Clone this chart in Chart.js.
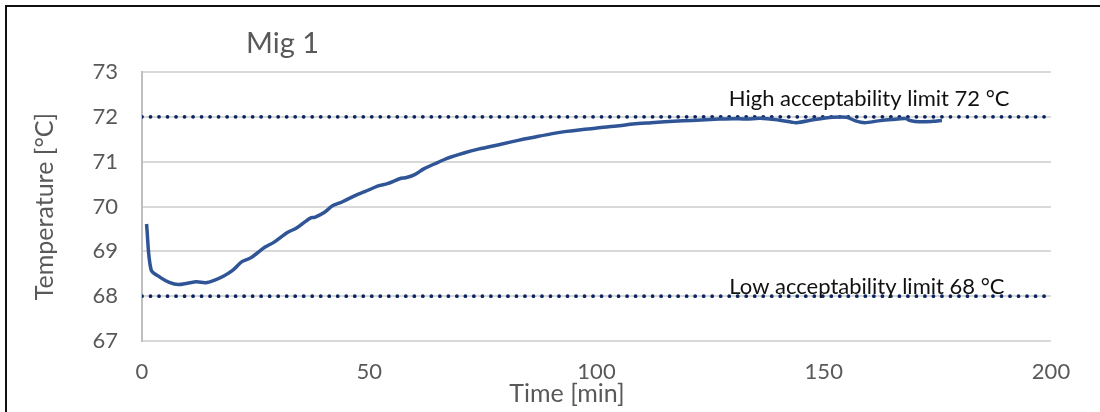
<!DOCTYPE html>
<html>
<head>
<meta charset="utf-8">
<script src="https://cdn.jsdelivr.net/npm/chart.js@4.4.1/dist/chart.umd.min.js"></script>
<style>
    body { margin: 0; background: #fff; }
    #wrap { position: relative; width: 1100px; height: 412px; }
    #frame { position: absolute; left: 5px; top: 5px; right: -10px; bottom: -10px; border-left: 2px solid #111; border-top: 2px solid #111; pointer-events: none; }
</style>
</head>
<body>
<div id="wrap">
    <canvas id="lineChart" width="1100" height="412"></canvas>
    <div id="frame"></div>
</div>
<script>
// du lieu doc tu hinh
var thoiGian = [1, 2, 4, 6, 8, 10, 12, 14, 16, 18, 20, 22, 24, 27, 29, 32, 34, 37, 38, 40, 42, 44, 47, 49, 52, 54, 57, 58, 60, 62, 65, 67, 71, 74, 79, 83, 86, 90, 93, 97, 101, 105, 108, 112, 115, 119, 123, 127, 130, 133, 136, 140, 143, 144, 148, 152, 155, 157, 159, 162, 165, 168, 169, 171, 174, 176];
var nhietDo = [69.61, 68.59, 68.42, 68.31, 68.26, 68.29, 68.32, 68.30, 68.36, 68.45, 68.58, 68.77, 68.86, 69.09, 69.20, 69.42, 69.52, 69.74, 69.76, 69.86, 70.02, 70.10, 70.25, 70.33, 70.46, 70.51, 70.63, 70.64, 70.71, 70.84, 70.98, 71.07, 71.20, 71.28, 71.39, 71.48, 71.54, 71.62, 71.67, 71.72, 71.76, 71.80, 71.84, 71.87, 71.89, 71.91, 71.93, 71.95, 71.96, 71.95, 71.97, 71.93, 71.88, 71.87, 71.94, 71.99, 71.99, 71.91, 71.87, 71.91, 71.94, 71.96, 71.92, 71.89, 71.90, 71.92];
var gioiHanX = [0, 200];
var gioiHanCao = [72, 72];
var gioiHanThap = [68, 68];
var nhanGioiHan = ['High acceptability limit 72 °C', 'Low acceptability limit 68 °C'];
var tieuDe = 'Mig 1';
var tenTrucX = 'Time [min]';
var tenTrucY = 'Temperature [°C]';
var xTicks = [0, 50, 100, 150, 200];
var yTicks = [67, 68, 69, 70, 71, 72, 73];

function toPoints(xs, ys) {
    var pts = [];
    for (var i = 0; i < xs.length; i++) pts.push({ x: xs[i], y: ys[i] });
    return pts;
}

var textPlugin = {
    id: 'textPlugin',
    afterDatasetsDraw: function (chart) {
        var ctx = chart.ctx;
        var xs = chart.scales.x, ys = chart.scales.y;
        ctx.save();
        ctx.font = '29px Lato';
        ctx.fillStyle = '#595959';
        ctx.textAlign = 'left';
        ctx.textBaseline = 'alphabetic';
        ctx.fillText(tieuDe, 246, 53);
        // ten truc x hoi lech trai nhu ban goc
        ctx.font = '25px Lato';
        ctx.textAlign = 'center';
        ctx.textBaseline = 'middle';
        ctx.fillText(tenTrucX, 567, 394);
        ctx.font = '22px Lato';
        ctx.fillStyle = '#111';
        ctx.textBaseline = 'alphabetic';
        ctx.fillText(nhanGioiHan[0], xs.getPixelForValue(160), ys.getPixelForValue(gioiHanCao[0]) - 11);
        ctx.fillText(nhanGioiHan[1], xs.getPixelForValue(159.5), ys.getPixelForValue(gioiHanThap[0]) - 2);
        ctx.restore();
    }
};

function renderChart() {
    var ctx = document.getElementById('lineChart').getContext('2d');
    var dotted = {
        borderColor: '#0b2560',
        borderWidth: 3.8,
        borderDash: [0.01, 8.5],
        borderCapStyle: 'round',
        pointRadius: 0,
        fill: false
    };
    var lineChart = new Chart(ctx, {
        type: 'line',
        data: {
            datasets: [{
                label: 'Mig 1',
                data: toPoints(thoiGian, nhietDo),
                borderColor: '#2f5597',
                borderWidth: 3.5,
                pointRadius: 0,
                tension: 0.3,
                fill: false
            }, Object.assign({ label: 'High', data: toPoints(gioiHanX, gioiHanCao) }, dotted),
               Object.assign({ label: 'Low', data: toPoints(gioiHanX, gioiHanThap) }, dotted)]
        },
        options: {
            responsive: false,
            animation: false,
            layout: { padding: { left: 30, right: 49, top: 72, bottom: 0 } },
            plugins: { legend: { display: false }, title: { display: false }, tooltip: { enabled: false } },
            scales: {
                x: {
                    type: 'linear',
                    min: 0, max: 200,
                    afterBuildTicks: function (s) { s.ticks = xTicks.map(function (v) { return { value: v }; }); },
                    afterFit: function (s) { s.height = 71; },
                    grid: { display: false, drawTicks: false },
                    border: { display: false },
                    ticks: { color: '#595959', font: { family: 'Lato', size: 22 }, padding: 18, maxRotation: 0 },
                    title: { display: false }
                },
                y: {
                    min: 67, max: 73,
                    afterBuildTicks: function (s) { s.ticks = yTicks.map(function (v) { return { value: v }; }); },
                    afterFit: function (s) { s.width = 112; },
                    grid: { color: '#d9d9d9', lineWidth: 2, drawTicks: false },
                    border: { display: true, color: '#bfbfbf', width: 2 },
                    ticks: { color: '#595959', font: { family: 'Lato', size: 22 }, padding: 24 },
                    title: { display: true, text: tenTrucY, color: '#595959', font: { family: 'Lato', size: 25 }, padding: { top: 0, bottom: 0 } }
                }
            }
        },
        plugins: [textPlugin]
    });
}

renderChart();
</script>
</body>
</html>
